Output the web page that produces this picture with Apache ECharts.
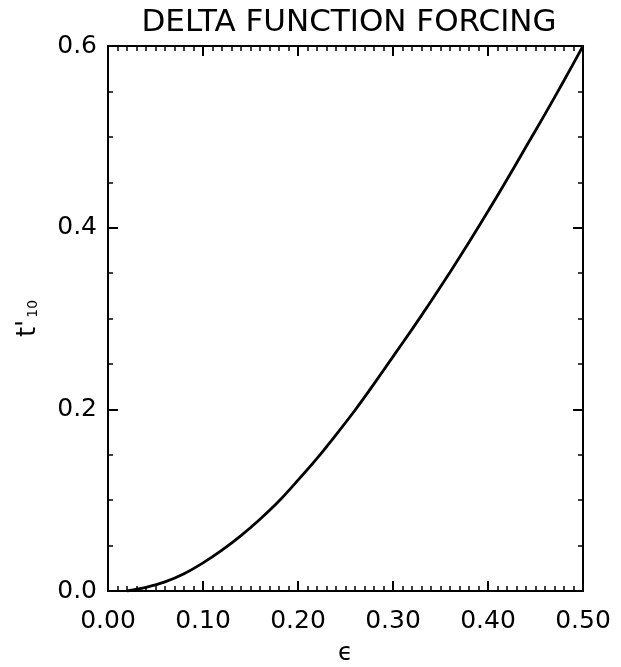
<!DOCTYPE html>
<html>
<head>
<meta charset="utf-8">
<script src="https://cdn.jsdelivr.net/npm/echarts@6/dist/echarts.min.js"></script>
<style>
  html, body { margin: 0; padding: 0; background: #fff; }
  #main { width: 621px; height: 667px; }
</style>
</head>
<body>
<div id="main"></div>
<script>
// curve: epsilon -> t'10
var eps = [0.02, 0.04, 0.06, 0.08, 0.10, 0.12, 0.14, 0.16, 0.18, 0.20, 0.22, 0.24, 0.26,
           0.28, 0.30, 0.32, 0.34, 0.36, 0.38, 0.40, 0.42, 0.44, 0.46, 0.48, 0.50];
var t10 = [0.000, 0.004, 0.010, 0.019, 0.031, 0.045, 0.061, 0.079, 0.099, 0.122, 0.146, 0.172, 0.199,
           0.228, 0.258, 0.288, 0.319, 0.351, 0.384, 0.418, 0.453, 0.489, 0.525, 0.562, 0.600];

var chart = echarts.init(document.getElementById('main'));
var font = 'DejaVu Sans';
var pts = [];
for (var i = 0; i < eps.length; i++) pts.push([eps[i], t10[i]]);

var axLine = { show: true, onZero: false, lineStyle: { color: '#000', width: 2 } };
var tick = { show: true, inside: true, length: 10, lineStyle: { color: '#000', width: 2 } };
var minor = function (n) {
    return { show: true, splitNumber: n, length: 5, lineStyle: { color: '#000', width: 1.5 } };
};

option = {
    backgroundColor: '#fff',
    animation: false,
    title: {
        text: 'DELTA FUNCTION FORCING',
        left: 344, top: 2, textAlign: 'center',
        textStyle: { fontFamily: font, fontSize: 31, fontWeight: 'normal', color: '#000' }
    },
    grid: { left: 108, right: 38, top: 46, bottom: 76, outerBoundsMode: 'none', containLabel: false },
    xAxis: [{
        type: 'value', min: 0, max: 0.5, interval: 0.1,
        axisLine: axLine, axisTick: tick, minorTick: minor(10),
        splitLine: { show: false },
        axisLabel: { margin: 18, fontFamily: font, fontSize: 25, color: '#000',
            formatter: function (v) { return v.toFixed(2); } },
        name: 'ϵ', nameLocation: 'middle', nameGap: 51,
        nameTextStyle: { fontFamily: font, fontSize: 24, color: '#000' }
    }, {
        type: 'value', position: 'top', min: 0, max: 0.5, interval: 0.1,
        axisLine: axLine, axisTick: tick, minorTick: minor(10),
        splitLine: { show: false }, axisLabel: { show: false }
    }],
    yAxis: [{
        type: 'value', min: 0, max: 0.6, interval: 0.2,
        axisLine: axLine, axisTick: tick, minorTick: minor(4),
        splitLine: { show: false },
        axisLabel: { margin: 11, fontFamily: font, fontSize: 25, color: '#000',
            formatter: function (v) { return v.toFixed(1); } },
        name: '{t|t\'}{s|10}', nameLocation: 'middle', nameGap: 67, nameRotate: 90,
        nameTextStyle: {
            rich: {
                t: { fontFamily: font, fontSize: 26, color: '#000' },
                s: { fontFamily: font, fontSize: 14, color: '#000', padding: [10, 0, 0, 2] }
            }
        }
    }, {
        type: 'value', position: 'right', min: 0, max: 0.6, interval: 0.2,
        axisLine: axLine, axisTick: tick, minorTick: minor(4),
        splitLine: { show: false }, axisLabel: { show: false }
    }],
    series: [{
        type: 'line',
        data: pts,
        smooth: 0.3,
        showSymbol: false,
        lineStyle: { color: '#000', width: 2.8 }
    }]
};
chart.setOption(option);
</script>
</body>
</html>
